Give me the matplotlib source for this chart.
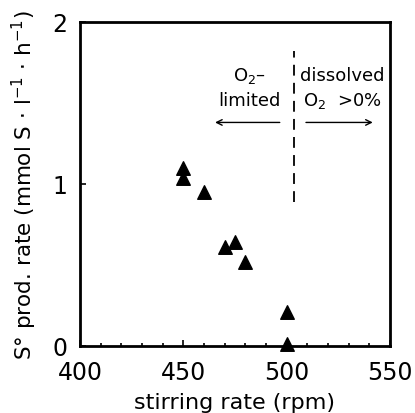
import matplotlib
matplotlib.use("Agg")
import matplotlib.pyplot as plt

stirring_rate = [450, 450, 460, 470, 475, 480, 500, 500]
s_prod_rate = [1.10, 1.04, 0.95, 0.61, 0.64, 0.52, 0.21, 0.01]
x_ticks = [400, 450, 500, 550]
y_ticks = [0, 1, 2]

plt.rcParams['font.family'] = ['DejaVu Sans']
fig = plt.figure(figsize=(4.15, 4.14), dpi=100)
ax = fig.add_axes([80/415, 1-347/414, 310/415, 324/414])

ax.scatter(stirring_rate, s_prod_rate, marker='^', s=95, color='black', zorder=3, clip_on=False)

ax.set_xlim(400, 550)
ax.set_ylim(0, 2)
ax.set_xticks(x_ticks)
ax.set_yticks(y_ticks)
ax.set_xticks(range(400, 551, 10), minor=True)
ax.tick_params(axis='both', which='major', direction='in', length=4, width=1.2, labelsize=17)
ax.tick_params(axis='x', which='major', pad=10)
ax.tick_params(axis='y', which='major', pad=9)
ax.tick_params(axis='x', which='minor', direction='in', length=2.5, width=1.2)
for s in ax.spines.values():
    s.set_linewidth(2)

ax.set_xlabel("stirring rate (rpm)", fontsize=16, labelpad=6)
ax.set_ylabel("S° prod. rate (mmol S $\\cdot$ l$^{-1}$ $\\cdot$ h$^{-1}$)", fontsize=15.5, labelpad=10)

# dashed separation line
ax.plot([503.5, 503.5], [0.89, 1.82], color='black', linestyle=(0, (6, 4)), linewidth=1.3)

# arrows
ax.annotate("", xy=(464, 1.38), xytext=(498, 1.38),
            arrowprops=dict(arrowstyle='->', color='black', lw=1.0))
ax.annotate("", xy=(543, 1.38), xytext=(508, 1.38),
            arrowprops=dict(arrowstyle='->', color='black', lw=1.0))

ax.text(482, 1.67, "O$_2$\u2013", ha='center', va='center', fontsize=13)
ax.text(482, 1.52, "limited", ha='center', va='center', fontsize=13)
ax.text(527, 1.67, "dissolved", ha='center', va='center', fontsize=13)
ax.text(527, 1.52, "O$_2$  >0%", ha='center', va='center', fontsize=13)

fig.savefig("out.png", dpi=100)
